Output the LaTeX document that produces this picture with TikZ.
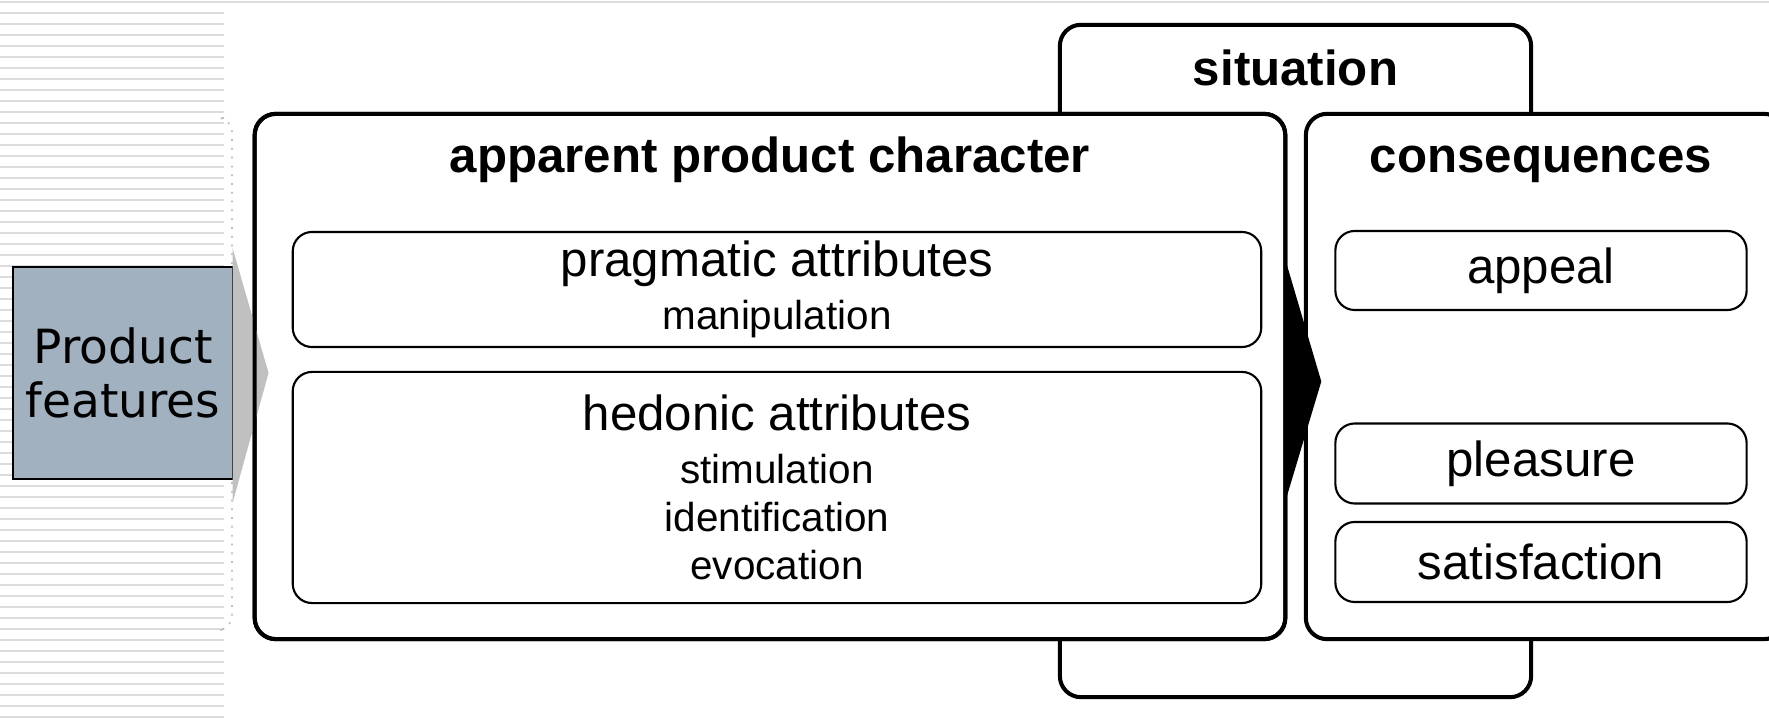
\documentclass[tikz,border=0pt]{standalone}
\usepackage{fontspec}
\setmainfont{Liberation Sans}
\newfontfamily\prodfont{DejaVu Sans}
\usetikzlibrary{calc}

\definecolor{prodblue}{RGB}{162,177,192}
\definecolor{arrowgray}{RGB}{192,192,192}
\definecolor{stripegray}{RGB}{220,220,220}
\newcommand\headsize{\fontsize{14}{14}\selectfont}

\begin{document}
\begin{tikzpicture}[x=0.01cm, y=-0.01cm,
		bigbox/.style={draw, line width=1.15pt, rounded corners=6pt, fill=white, inner sep=0pt, outer sep=0pt},
		frame/.style={line width=1.15pt, rounded corners=6pt},
		smallbox/.style={draw, line width=0.6pt, rounded corners=5.5pt, fill=white, inner sep=0pt, outer sep=0pt, align=center, font=\fontsize{11.5}{13.6}\selectfont},
		conbox/.style={smallbox, minimum width=4.11cm, font=\headsize},
		title/.style={anchor=base, font=\headsize\bfseries},
		stripe/.style={stripegray, line width=0.57pt}]
			\useasboundingbox (0,0) rectangle (1769,725);

			% background lines
			\draw[stripe] (0,2) -- (1769,2);
			\foreach \y in {13,24,...,717}
				\draw[stripe] (0,\y) -- (224,\y);
			\draw[dotted, gray!50, line width=0.5pt, rounded corners=4pt] (224,118) -| (232,630) -- (224,630);

			% outer boxes
			\node[bigbox, minimum width=4.71cm, minimum height=6.72cm] (sit) at (1295.5,361) {};
			\node[bigbox, minimum width=10.30cm, minimum height=5.25cm] (acp) at (770,376.5) {};
			\node[bigbox, minimum width=4.79cm, minimum height=5.25cm] (cons) at (1545.5,376.5) {};

			% product features
			\node[draw, line width=0.6pt, fill=prodblue, inner sep=0pt, outer sep=0pt,
				minimum width=2.19cm, minimum height=2.12cm, align=center,
				font=\prodfont\fontsize{13.4}{15.3}\selectfont] (prod) at (123,373) {Product\\features};

			% arrows
			\fill[arrowgray] ($(prod.east)+(0,-125)$) -- ($(prod.east)+(36,0)$) -- ($(prod.east)+(0,130)$) -- cycle;
			\draw[frame] (acp.south west) rectangle (acp.north east);
			\fill ($(acp.east)+(0,-117)$) -- ($(acp.east)+(36,5)$) -- ($(acp.east)+(0,125)$) -- cycle;

			% titles
			\node[title] (sittitle) at (1295.5,86) {situation};
			\node[title] (acptitle) at (770,173) {apparent product character};
			\node[title] (constitle) at (1541,173) {consequences};

			% attributes
			\node[smallbox, minimum width=9.68cm, minimum height=1.15cm] (prag) at (777,289.5)
				{{\headsize pragmatic attributes}\\[1.4pt]manipulation};
			\node[smallbox, minimum width=9.68cm, minimum height=2.31cm] (hed) at (777,487.5)
				{{\headsize hedonic attributes}\\[1.4pt]stimulation\\identification\\evocation};

			% consequences
			\node[conbox, minimum height=0.79cm] (appeal) at (1541,270.5) {appeal};
			\node[conbox, minimum height=0.80cm] (pleasure) at (1541,463.5) {pleasure};
			\node[conbox, minimum height=0.80cm] (satisf) at (1541,562) {satisfaction};

		\end{tikzpicture}
\end{document}
